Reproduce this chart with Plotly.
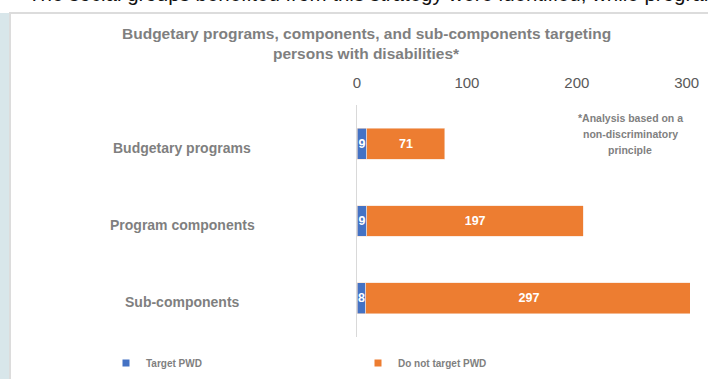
import plotly.graph_objects as go

categories = ["Budgetary programs", "Program components", "Sub-components"]
target_pwd = [9, 9, 8]
not_target_pwd = [71, 197, 297]
tick_vals = [0, 100, 200, 300]
series_names = ["Target PWD", "Do not target PWD"]
colors = ["#4472C4", "#ED7D31"]
title_lines = ["Budgetary programs, components, and sub-components targeting",
               "persons with disabilities*"]
note_lines = ["*Analysis based on a", "non-discriminatory", "principle"]
body_text = "The social groups benefited from this strategy were identified, while program"

FONT = "Liberation Sans, Arial, sans-serif"
GRAY = "#7f7f7f"

W, H = 708, 379
L, R, T, B = 357, 18, 105, 42
pw = W - L - R
ph = H - T - B


def px_x(px):
    return (px - L) / pw


def px_y(py):
    return (H - B - py) / ph


fig = go.Figure()
for vals, name, col in [(target_pwd, series_names[0], colors[0]),
                        (not_target_pwd, series_names[1], colors[1])]:
    fig.add_trace(go.Bar(
        y=categories, x=vals, orientation="h", name=name,
        marker=dict(color=col, line=dict(color="#f7e0d0", width=0.6)),
        text=[str(v) for v in vals], textposition="inside",
        insidetextanchor="middle", constraintext="none",
        textfont=dict(family=FONT, size=12.5, color="white", weight="bold"),
        width=0.4, showlegend=False, hoverinfo="skip",
    ))
    fig.add_trace(go.Scatter(
        x=[None], y=[None], mode="markers", name=name,
        marker=dict(symbol="square", size=7, color=col), showlegend=True,
    ))

for c in categories:
    fig.add_annotation(x=px_x(182), xref="paper", y=c, yref="y",
                       text=c, showarrow=False, xanchor="center", yshift=-4,
                       font=dict(family=FONT, size=14, color=GRAY, weight="bold"))

for line, py in zip(note_lines, [118, 134, 150]):
    fig.add_annotation(x=px_x(630), xref="paper", y=px_y(py), yref="paper",
                       text=line, showarrow=False, xanchor="center", yanchor="middle",
                       font=dict(family=FONT, size=10.5, color=GRAY, weight="bold"))

for line, py in zip(title_lines, [33, 54]):
    fig.add_annotation(x=px_x(366), xref="paper", y=px_y(py), yref="paper",
                       text=line, showarrow=False, xanchor="center", yanchor="middle",
                       font=dict(family=FONT, size=15.5, color=GRAY, weight="bold"))

# clipped body text from the page above the chart
fig.add_annotation(x=px_x(26), xref="paper", y=px_y(7.5), yref="paper",
                   text=body_text, showarrow=False, xanchor="left", yanchor="bottom",
                   font=dict(family=FONT, size=20.5, color="#111111"))

# frame and left strip
fig.add_shape(type="rect", xref="paper", yref="paper",
              x0=px_x(0), x1=px_x(9), y0=px_y(13), y1=px_y(390),
              fillcolor="#d8e6ea", line=dict(width=0), layer="below")
fig.add_shape(type="rect", xref="paper", yref="paper",
              x0=px_x(10), x1=px_x(715), y0=px_y(13), y1=px_y(390),
              fillcolor="rgba(0,0,0,0)", line=dict(color="#dcdcdc", width=2), layer="below")

fig.update_layout(
    width=W, height=H, barmode="stack",
    margin=dict(l=L, r=R, t=T, b=B, autoexpand=False),
    paper_bgcolor="white", plot_bgcolor="white",
    xaxis=dict(side="top", range=[0, 303], tickvals=tick_vals,
               ticktext=[str(v) for v in tick_vals], showgrid=False, zeroline=False,
               showline=False, ticks="outside", ticklen=10, tickcolor="rgba(0,0,0,0)",
               tickfont=dict(family=FONT, size=15, color="#595959")),
    yaxis=dict(categoryorder="array", categoryarray=categories, autorange="reversed",
               showticklabels=False, showgrid=False, zeroline=False,
               showline=True, linecolor="#d9d9d9", linewidth=1, ticks=""),
    legend=dict(orientation="h", xref="paper", yref="paper",
                x=px_x(106), y=px_y(363), xanchor="left", yanchor="middle",
                traceorder="normal",
                entrywidthmode="pixels", entrywidth=207,
                font=dict(family=FONT, size=10, color=GRAY, weight="bold"),
                bgcolor="rgba(0,0,0,0)"),
    showlegend=True,
)

fig.write_html("out.html")
